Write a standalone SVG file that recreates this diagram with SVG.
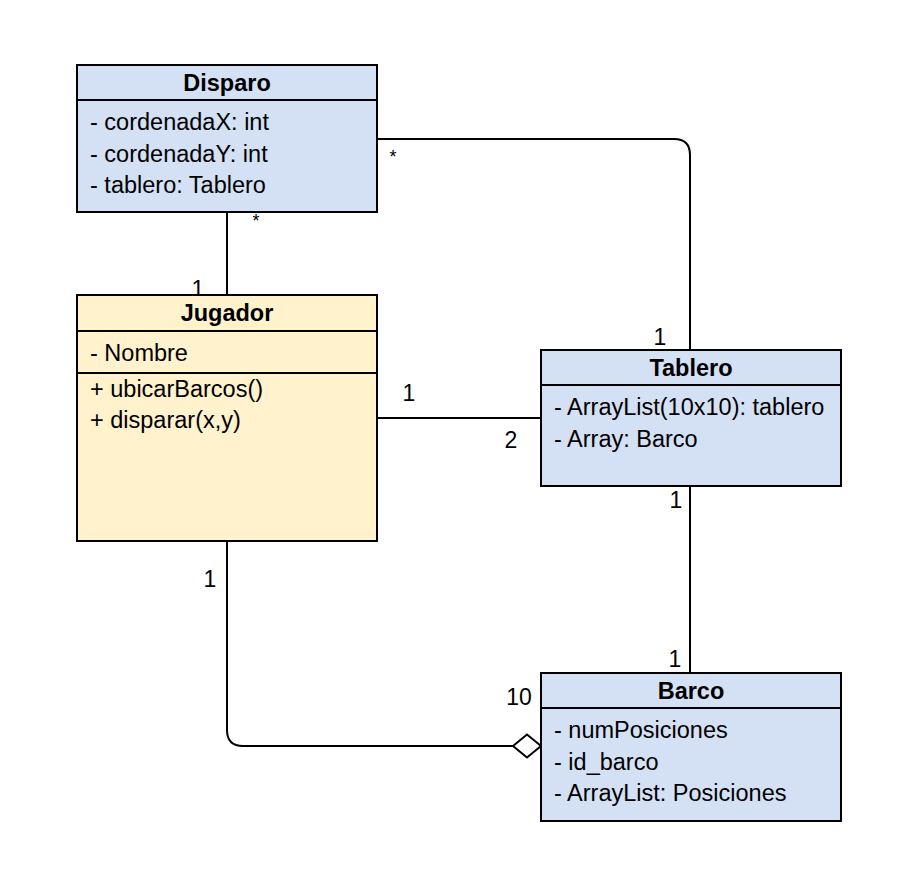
<svg xmlns="http://www.w3.org/2000/svg" width="914" height="894" viewBox="0 0 914 894">
<style>
  .box { stroke: #000; stroke-width: 2; }
  .blue { fill: #D4E1F5; }
  .yellow { fill: #FFF2CC; }
  .sep { stroke: #000; stroke-width: 2; fill: none; }
  .t { font-family: "Liberation Sans", Arial, Helvetica, sans-serif; font-size: 23.5px; fill: #000; }
  .title { font-weight: bold; text-anchor: middle; }
  .lbl { font-family: "Liberation Sans", Arial, Helvetica, sans-serif; font-size: 23px; fill: #000; text-anchor: middle; }
  .star { font-family: "Liberation Sans", Arial, Helvetica, sans-serif; font-size: 18px; fill: #000; text-anchor: middle; }
  .edge { stroke: #000; stroke-width: 2; fill: none; }
</style>
<rect width="914" height="894" fill="#fff"/>

<g id="connectors">
  <path class="edge" d="M227 212 V295"/>
  <path class="edge" d="M377 139 H674 Q690 139 690 155 V350"/>
  <path class="edge" d="M377 418 H541"/>
  <path class="edge" d="M690 486 V673"/>
  <path class="edge" d="M227 541 V730 Q227 746 243 746 H513"/>
  <path d="M513 746 L527 734.5 L541 746 L527 757.5 Z" fill="#fff" stroke="#000" stroke-width="2"/>
  <text class="star" x="256" y="227">*</text>
  <text class="lbl" x="198" y="297">1</text>
  <text class="star" x="393" y="163">*</text>
  <text class="lbl" x="660" y="345">1</text>
  <text class="lbl" x="409" y="401">1</text>
  <text class="lbl" x="511" y="448">2</text>
  <text class="lbl" x="676" y="508">1</text>
  <text class="lbl" x="675" y="667">1</text>
  <text class="lbl" x="210" y="587">1</text>
  <text class="lbl" x="519" y="705">10</text>
</g>

<g id="disparo">
  <rect class="box blue" x="77" y="65" width="300" height="147"/>
  <line class="sep" x1="77" y1="100" x2="377" y2="100"/>
  <text class="t title" x="227" y="91">Disparo</text>
  <text class="t" x="90" y="130">- cordenadaX: int</text>
  <text class="t" x="90" y="162">- cordenadaY: int</text>
  <text class="t" x="90" y="193">- tablero: Tablero</text>
</g>

<g id="jugador">
  <rect class="box yellow" x="77" y="295" width="300" height="246"/>
  <line class="sep" x1="77" y1="331" x2="377" y2="331"/>
  <line class="sep" x1="77" y1="373" x2="377" y2="373"/>
  <text class="t title" x="227" y="321">Jugador</text>
  <text class="t" x="90" y="361">- Nombre</text>
  <text class="t" x="90" y="397">+ ubicarBarcos()</text>
  <text class="t" x="90" y="428">+ disparar(x,y)</text>
</g>

<g id="tablero">
  <rect class="box blue" x="541" y="350" width="300" height="136"/>
  <line class="sep" x1="541" y1="385" x2="841" y2="385"/>
  <text class="t title" x="691" y="376">Tablero</text>
  <text class="t" x="554" y="415">- ArrayList(10x10): tablero</text>
  <text class="t" x="554" y="447">- Array: Barco</text>
</g>

<g id="barco">
  <rect class="box blue" x="541" y="673" width="300" height="148"/>
  <line class="sep" x1="541" y1="708" x2="841" y2="708"/>
  <text class="t title" x="691" y="699">Barco</text>
  <text class="t" x="554" y="738">- numPosiciones</text>
  <text class="t" x="554" y="770">- id_barco</text>
  <text class="t" x="554" y="801">- ArrayList: Posiciones</text>
</g>
</svg>
